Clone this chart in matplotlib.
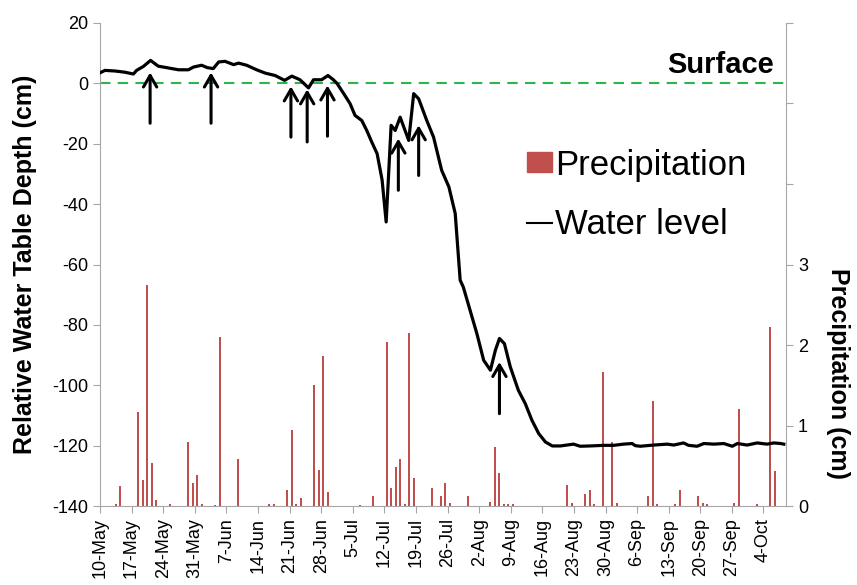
import matplotlib
matplotlib.use('Agg')
import matplotlib.pyplot as plt
from matplotlib.patches import Patch
from matplotlib.lines import Line2D
import numpy as np

plt.rcParams['font.family'] = ['Liberation Sans', 'DejaVu Sans']
plt.rcParams['axes.unicode_minus'] = False

# days counted from 10-May
tick_days = list(range(0, 148, 7))
tick_labels = ['10-May', '17-May', '24-May', '31-May', '7-Jun', '14-Jun', '21-Jun',
               '28-Jun', '5-Jul', '12-Jul', '19-Jul', '26-Jul', '2-Aug', '9-Aug',
               '16-Aug', '23-Aug', '30-Aug', '6-Sep', '13-Sep', '20-Sep', '27-Sep',
               '4-Oct']

# water level (cm, relative to surface)
wl_day = [0, 1.1, 3.3, 5.5, 7.4, 8.1, 9.6, 11.2, 12.9, 14.8, 17.4, 19.6, 20.7, 22.5,
          23.8, 25.1, 26.3, 27.7, 29.6, 30.7, 32.5, 34.7, 36.6, 38.8, 40.9, 42.5,
          44.3, 46.2, 47.3, 49.1, 50.5, 51.7, 52.5, 54, 55.4, 56.5, 58, 59.1, 60.2,
          61.4, 62.5, 63.4, 64.5, 65.4, 66.5, 68.4, 69.5, 70.6, 72.4, 73.9, 75.7,
          77.3, 78.7, 79.8, 80.5, 82, 83.5, 85, 86.5, 87.6, 88.5, 89.6, 90.9, 92.7,
          94.2, 95.7, 97.2, 98.7, 100.2, 102, 104.9, 106.4, 108.6, 111.6, 113.8,
          116, 117.9, 118.6, 119.7, 122.7, 125.7, 127.1, 129.3, 130.4, 132.3,
          133.8, 136, 138.2, 140.1, 141.2, 143.4, 145.6, 147.8, 149.3, 150.8, 151.5]
wl_val = [3.5, 4.3, 4.1, 3.7, 3.1, 4.3, 5.6, 7.6, 5.7, 5.2, 4.5, 4.5, 5.4, 6.0,
          5.2, 4.9, 7.1, 7.3, 6.2, 6.7, 6.0, 4.5, 3.4, 2.6, 1.0, 2.4,
          1.2, -1.5, 1.2, 1.2, 2.6, 1.2, 0.0, -3.4, -6.7, -10.6, -12.3, -15.6, -19.4,
          -23.3, -32, -45.9, -13.9, -15.6, -11.2, -18.9, -3.4, -5.1, -12.3, -17.8, -28.8,
          -34.3, -43.1, -65.2, -67.5, -75.2, -82.9, -91.7, -95, -88.4, -84.5, -86.2, -93.9, -101.7,
          -106, -111.6, -116, -118.8, -120.1, -120.1, -119.5, -120.2, -120.1, -119.9, -119.9,
          -119.5, -119.3, -120.0, -120.2, -119.8, -119.5, -119.8, -119.1, -119.9, -120.2,
          -119.3, -119.5, -119.3, -120.2, -119.3, -119.8, -119.1, -119.5, -119.1, -119.3, -119.5]

# daily precipitation (cm)
pr_day = [3, 4, 8, 9, 10, 11, 12, 15, 19, 20, 21, 22, 25, 26, 30, 37, 38, 41, 42, 43,
          44, 47, 48, 49, 50, 57, 60, 63, 64, 65, 66, 67, 68, 69, 73, 75, 76, 77, 81,
          86, 87, 88, 89, 90, 91, 103, 104, 107, 108, 109, 111, 113, 114, 121, 122,
          123, 127, 128, 132, 133, 134, 140, 141, 145, 148, 149]
pr_val = [0.02, 0.25, 1.17, 0.32, 2.75, 0.53, 0.07, 0.03, 0.79, 0.28, 0.38, 0.03, 0.01,
          2.10, 0.58, 0.02, 0.02, 0.20, 0.94, 0.02, 0.10, 1.50, 0.45, 1.86, 0.18, 0.01,
          0.12, 2.04, 0.23, 0.48, 0.58, 0.02, 2.15, 0.35, 0.23, 0.12, 0.28, 0.04, 0.12,
          0.05, 0.73, 0.41, 0.02, 0.02, 0.02, 0.26, 0.04, 0.15, 0.20, 0.03, 1.66, 0.80,
          0.04, 0.12, 1.31, 0.02, 0.03, 0.20, 0.12, 0.04, 0.02, 0.04, 1.20, 0.03, 2.22,
          0.43]

# rain event arrows: day, head, tail (cm)
arrow_day = [11.1, 24.6, 42.3, 45.9, 50.4, 66.1, 70.6, 88.5]
arrow_tip = [3.6, 3.6, -1.0, -2.0, -0.7, -18.3, -13.9, -92.3]
arrow_tail = [-13.2, -13.2, -17.8, -19.4, -17.5, -35.4, -30.5, -109.4]

grey = '#A6A6A6'
red = '#C0504D'

fig = plt.figure(figsize=(8.57, 5.85), dpi=100)
ax = fig.add_axes([0.1167, 0.135, 0.8005, 0.8257])
ax2 = ax.twinx()

ax2.bar(np.array(pr_day) + 0.5, pr_val, width=0.45, color=red, zorder=2)
ax2.set_ylim(0, 6)
ax2.set_yticks(range(7))
ax2.set_yticklabels(['0', '1', '2', '3', '', '', ''])

ax.set_zorder(ax2.get_zorder() + 1)
ax.patch.set_visible(False)

ax.axhline(0, color='#2DB54B', lw=1.5, ls=(0, (5, 3.5)), zorder=1)
ax.plot(wl_day, wl_val, color='black', lw=2.3, zorder=3)
for d, t, s in zip(arrow_day, arrow_tip, arrow_tail):
    ax.annotate('', xy=(d, t), xytext=(d, s),
                arrowprops=dict(arrowstyle='->,head_length=0.55,head_width=0.32',
                                lw=2.2, color='black', mutation_scale=15,
                                shrinkA=0, shrinkB=0))
ax.text(149.4, 3.6, 'Surface', ha='right', va='baseline', fontsize=21,
        fontweight='bold')

ax.set_xlim(0, 152)
ax.set_ylim(-140, 20)
ax.set_yticks(range(-140, 21, 20))
ax.set_xticks(tick_days)
ax.set_xticklabels(tick_labels, rotation=90)

for a in (ax, ax2):
    a.spines['top'].set_visible(False)
    for s in ('left', 'right', 'bottom'):
        a.spines[s].set_color(grey)
    a.tick_params(colors=grey, labelcolor='black', labelsize=13, length=5)
ax.spines['right'].set_visible(False)
ax2.spines['left'].set_visible(False)
ax2.spines['bottom'].set_visible(False)

ax.set_ylabel('Relative Water Table Depth (cm)', fontsize=18, fontweight='bold')
ax.yaxis.set_label_coords(-0.109, 0.5)
ax.yaxis.label.set(ha='center', va='center', rotation_mode='anchor')
ax2.set_ylabel('Precipitation (cm)', fontsize=18, fontweight='bold', rotation=270)
ax2.yaxis.set_label_coords(1.076, 0.274)
ax2.yaxis.label.set(ha='center', va='center', rotation_mode='anchor')

handles = [Patch(color=red), Line2D([], [], color='black', lw=1.5)]
ax.legend(handles, ['Precipitation', 'Water level'], loc='upper left',
          bbox_to_anchor=(0.622, 0.74), frameon=False, fontsize=25,
          handlelength=0.72, handleheight=0.5, handletextpad=0.1,
          labelspacing=0.75, borderpad=0, borderaxespad=0)

fig.savefig('out.png', dpi=100)
